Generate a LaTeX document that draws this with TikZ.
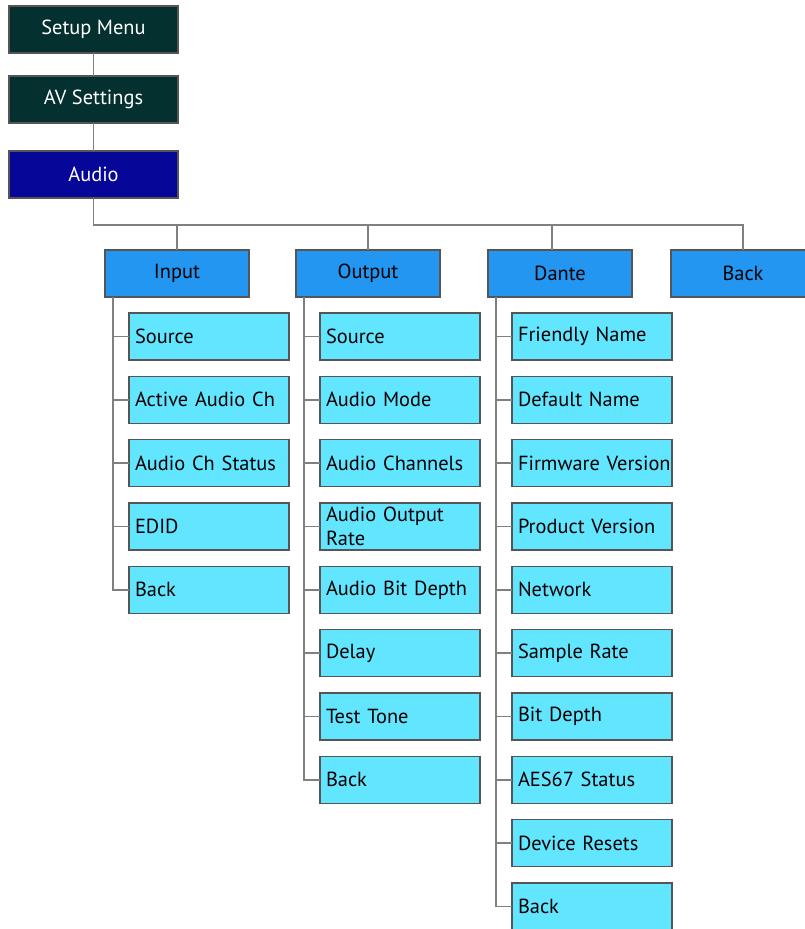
\documentclass[tikz,border=0pt]{standalone}
\usepackage{fontspec}
\setmainfont{PT Sans}
\definecolor{MenuTeal}{RGB}{4, 48, 48}
\definecolor{AudioNavy}{RGB}{6, 6, 152}
\definecolor{GroupBlue}{RGB}{34, 150, 240}
\definecolor{ItemCyan}{RGB}{98, 230, 255}
\definecolor{EdgeGray}{RGB}{85, 85, 85}
\definecolor{LinkGray}{RGB}{128, 128, 128}
\newcommand{\menufont}{\fontsize{15.3}{18.5}\selectfont\hyphenpenalty=10000\relax\hbadness=10000\relax}
\usetikzlibrary{positioning}

\begin{document}
\begin{tikzpicture}[
    x=0.75pt, y=-0.75pt,
    node distance=12.25pt,
    every node/.style={font=\menufont, outer sep=0pt},
    topbox/.style={draw=EdgeGray, line width=1pt, fill=MenuTeal, text=white,
                   minimum width=126.75pt, minimum height=35.25pt, inner sep=0pt},
    groupbox/.style={draw=EdgeGray, line width=1pt, fill=GroupBlue, text=black,
                     minimum width=108pt, minimum height=35.25pt, inner sep=0pt},
    itembox/.style={draw=EdgeGray, line width=1pt, fill=ItemCyan, text=black,
                    minimum height=35.25pt, inner xsep=4.5pt, inner ysep=0pt,
                    text width=111pt, align=left},
    link/.style={draw=LinkGray, line width=1.3pt}
]
\useasboundingbox (0,0) rectangle (805,929);

% menu path
\node[topbox, anchor=north west] (setup) at (9,6) {Setup Menu};
\node[topbox, below=17.25pt of setup] (avset) {AV Settings};
\node[topbox, below=21pt of avset, fill=AudioNavy] (audio) {Audio};

% audio groups
\node[groupbox, anchor=north west] (input) at (105,250) {Input};
\node[groupbox, right=35.25pt of input] (output) {Output};
\node[groupbox, right=36pt of output] (dante) {Dante};
\node[groupbox, right=29.25pt of dante] (back) {Back};

% input items
\node[itembox, below right=12pt and 18pt of input.south west] (in1) {Source};
\node[itembox, below=of in1] (in2) {Active Audio Ch};
\node[itembox, below=of in2] (in3) {Audio Ch Status};
\node[itembox, below=of in3] (in4) {EDID};
\node[itembox, below=of in4] (in5) {Back};

% output items
\node[itembox, below right=12pt and 18pt of output.south west] (out1) {Source};
\node[itembox, below=of out1] (out2) {Audio Mode};
\node[itembox, below=of out2] (out3) {Audio Channels};
\node[itembox, below=of out3] (out4) {Audio Output\\Rate};
\node[itembox, below=of out4] (out5) {Audio Bit Depth};
\node[itembox, below=of out5] (out6) {Delay};
\node[itembox, below=of out6] (out7) {Test Tone};
\node[itembox, below=of out7] (out8) {Back};

% dante items
\node[itembox, below right=12pt and 18pt of dante.south west] (dan1) {Friendly Name};
\node[itembox, below=of dan1] (dan2) {Default Name};
\node[itembox, below=of dan2] (dan3) {Firmware~Version};
\node[itembox, below=of dan3] (dan4) {Product Version};
\node[itembox, below=of dan4] (dan5) {Network};
\node[itembox, below=of dan5] (dan6) {Sample Rate};
\node[itembox, below=of dan6] (dan7) {Bit Depth};
\node[itembox, below=of dan7] (dan8) {AES67 Status};
\node[itembox, below=of dan8] (dan9) {Device Resets};
\node[itembox, below=of dan9] (dan10) {Back};

% connectors
\draw[link] (setup) -- (avset);
\draw[link] (avset) -- (audio);
\coordinate[above=18.75pt of back.north] (busend);
\draw[link] (audio.south) |- (busend) -- (back.north);
\draw[link] (input.north) -- (input.north |- busend);
\draw[link] (output.north) -- (output.north |- busend);
\draw[link] ([xshift=-6pt]dante.north) -- ([xshift=-6pt]dante.north |- busend);
\foreach \item in {in1, in2, in3, in4, in5}
    \draw[link] ([xshift=6pt]input.south west) |- (\item.west);
\foreach \item in {out1, out2, out3, out4, out5, out6, out7, out8}
    \draw[link] ([xshift=6pt]output.south west) |- (\item.west);
\foreach \item in {dan1, dan2, dan3, dan4, dan5, dan6, dan7, dan8, dan9, dan10}
    \draw[link] ([xshift=6pt]dante.south west) |- (\item.west);
\end{tikzpicture}
\end{document}
